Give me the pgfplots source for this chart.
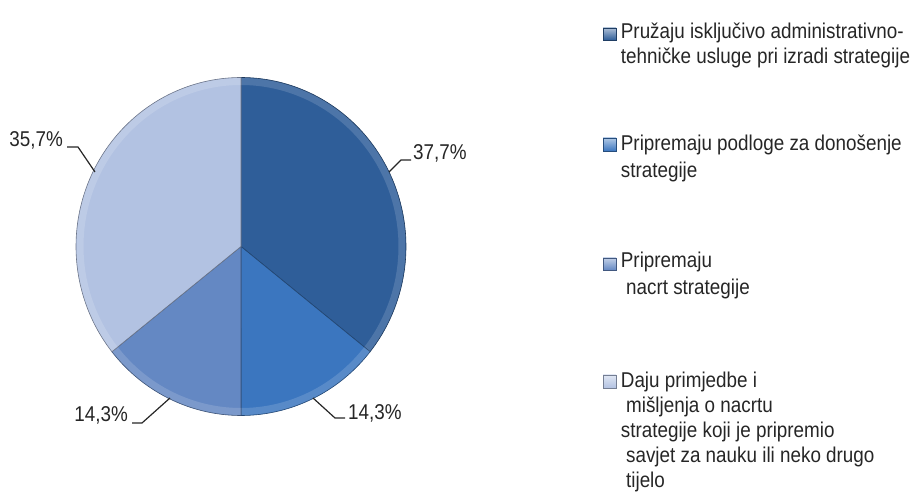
\documentclass[border=0pt]{standalone}
\usepackage{pgfplots}
\pgfplotsset{compat=1.18}
\usepackage{fontspec}
\setmainfont{Liberation Sans}[FakeStretch=0.88]

\definecolor{sA}{HTML}{2F5E99}
\definecolor{sB}{HTML}{3B76BF}
\definecolor{sC}{HTML}{6488C3}
\definecolor{sD}{HTML}{B2C2E2}
\definecolor{txt}{HTML}{262626}

% shares as drawn, clockwise from 12 o'clock (percent)
\def\va{35.7}\def\vb{14.3}\def\vc{14.3}\def\vd{35.7}
\def\cx{241}\def\cy{252.5}\def\rx{165}\def\ry{169}
\pgfmathsetmacro\aA{90}
\pgfmathsetmacro\aB{\aA-3.6*\va}
\pgfmathsetmacro\aC{\aB-3.6*\vb}
\pgfmathsetmacro\aD{\aC-3.6*\vc}
\pgfmathsetmacro\aE{\aD-3.6*\vd}
\pgfmathsetmacro\rimx{\rx-4}
\pgfmathsetmacro\rimy{\ry-4}

\newcommand\slice[3]{%
  \addplot[fill=#1, draw=#1!60!black, line width=0.6bp, domain=#3:#2, samples=90]
    ({\cx+\rx*cos(x)}, {\cy+\ry*sin(x)}) -- (axis cs:\cx,\cy) -- cycle;
  % soft rim highlight (bevel look)
  \addplot[draw=white, draw opacity=0.15, line width=7bp, domain=#3:#2, samples=90]
    ({\cx+\rimx*cos(x)}, {\cy+\rimy*sin(x)});
}
\newcommand\legkey[3]{% colour, bottom, top
  \shade[top color=#1!40!white, bottom color=#1, draw=#1!65!black, line width=0.4bp]
    (axis cs:603,#2) rectangle (axis cs:616,#3);}

\begin{document}
\begin{tikzpicture}
\begin{axis}[
    width=912bp, height=499bp, scale only axis,
    xmin=0, xmax=912, ymin=0, ymax=499,
    hide axis, clip=false,
    ]
\path (rel axis cs:0,0) rectangle (rel axis cs:1,1);

\slice{sA}{\aA}{\aB}
\slice{sB}{\aB}{\aC}
\slice{sC}{\aC}{\aD}
\slice{sD}{\aD}{\aE}

% legend
\legkey{sA}{459}{471}
\legkey{sB}{348}{361}
\legkey{sC}{229}{241}
\legkey{sD}{111}{124}
\begin{scope}[every node/.style={anchor=base west, inner sep=0pt, text=txt,
    font=\fontsize{21.5}{25}\selectfont}]
\node at (axis cs:620.7,460) {\begin{tabular}[t]{@{}l@{}}Pružaju isključivo administrativno-\\tehničke usluge pri izradi strategije\end{tabular}};
\node[font=\fontsize{21.5}{27}\selectfont] at (axis cs:620.7,348) {\begin{tabular}[t]{@{}l@{}}Pripremaju podloge za donošenje\\strategije\end{tabular}};
\node[font=\fontsize{21.5}{27}\selectfont] at (axis cs:620.7,231) {\begin{tabular}[t]{@{}l@{}}Pripremaju\\\ nacrt strategije\end{tabular}};
\node at (axis cs:620.7,111.5) {\begin{tabular}[t]{@{}l@{}}Daju primjedbe i\\\ mišljenja o nacrtu\\strategije koji je pripremio\\\ savjet za nauku ili neko drugo\\\ tijelo\end{tabular}};
\end{scope}

% data labels with leader lines
\begin{scope}[every node/.style={font=\fontsize{21.5}{26}\selectfont, text=txt, inner sep=0pt}]
\draw[txt, line width=1.2bp] (axis cs:389,327) -- (axis cs:401,339) -- (axis cs:411,339);
\node[anchor=base west] at (axis cs:413,339) {37,7\%};
\draw[txt, line width=1.2bp] (axis cs:95,327) -- (axis cs:78,352) -- (axis cs:67,352);
\node[anchor=base east] at (axis cs:63,352) {35,7\%};
\draw[txt, line width=1.2bp] (axis cs:170,101) -- (axis cs:142,76) -- (axis cs:132,76);
\node[anchor=base east] at (axis cs:128,77) {14,3\%};
\draw[txt, line width=1.2bp] (axis cs:313,101) -- (axis cs:335,81) -- (axis cs:345,81);
\node[anchor=base west] at (axis cs:348,79) {14,3\%};
\end{scope}
\end{axis}
\end{tikzpicture}
\end{document}
